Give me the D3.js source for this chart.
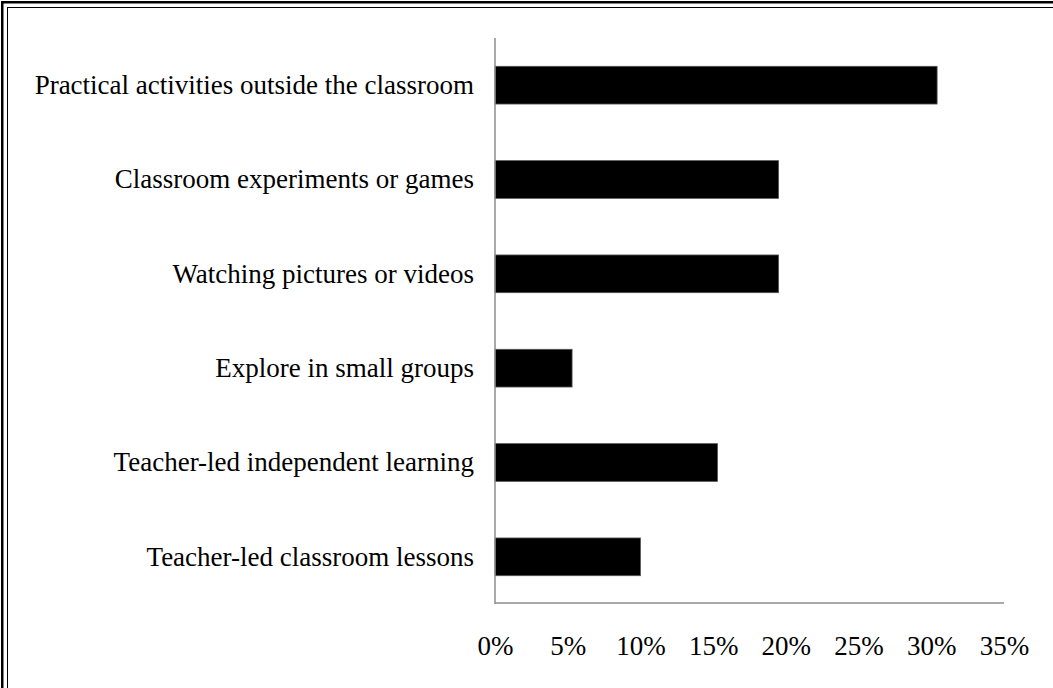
<!DOCTYPE html>
<html>
<head>
<meta charset="utf-8">
<script src="https://cdn.jsdelivr.net/npm/d3@7/dist/d3.min.js"></script>
<style>
  html, body { margin: 0; padding: 0; background: #fff; }
  svg { display: block; }
  text { font-family: "Liberation Serif", "Times New Roman", serif; fill: #000; }
</style>
</head>
<body>
<svg id="chart" width="1053" height="688"></svg>
<script>
// Preferred learning approaches, share of responses
const categories = [
  "Practical activities outside the classroom",
  "Classroom experiments or games",
  "Watching pictures or videos",
  "Explore in small groups",
  "Teacher-led independent learning",
  "Teacher-led classroom lessons"
];
const shares = [0.304, 0.195, 0.195, 0.053, 0.153, 0.100];
const tickValues = [0, 0.05, 0.10, 0.15, 0.20, 0.25, 0.30, 0.35];

const svg = d3.select("#chart");
const W = 1053, H = 688;

// double frame around the figure
svg.append("rect")
  .attr("x", 2.25).attr("y", 2.25)
  .attr("width", W + 40).attr("height", H + 40)
  .attr("fill", "none").attr("stroke", "#000").attr("stroke-width", 2.5);
svg.append("rect")
  .attr("x", 7.5).attr("y", 7.5)
  .attr("width", W + 40).attr("height", H + 40)
  .attr("fill", "none").attr("stroke", "#000").attr("stroke-width", 1);

const x = d3.scaleLinear().domain([0, 0.35]).range([495, 1004]);
const y = d3.scaleBand().domain(categories).range([38, 604])
  .paddingInner(0.6).paddingOuter(0.3);

const fontSize = 27;

// bars
svg.append("g").selectAll("rect")
  .data(categories.map((c, i) => ({ c, v: shares[i] })))
  .join("rect")
  .attr("x", x(0))
  .attr("y", d => y(d.c))
  .attr("width", d => x(d.v) - x(0))
  .attr("height", y.bandwidth())
  .attr("fill", "#000")
  .attr("stroke", "#555")
  .attr("stroke-width", 0.8);

// category axis (vertical line + labels, no ticks)
const yAxis = d3.axisLeft(y).tickSize(0).tickPadding(21);
const gy = svg.append("g").attr("transform", `translate(${x(0)},0)`).call(yAxis);
gy.select(".domain").attr("stroke", "#8c8c8c").attr("stroke-width", 1.5)
  .attr("d", `M0,${y.range()[0]}V${y.range()[1]}`);
gy.selectAll("text")
  .style("font-family", '"Liberation Serif", "Times New Roman", serif')
  .style("font-size", fontSize + "px")
  .attr("fill", "#000")
  .attr("dy", "0.33em");

// value axis (horizontal line + percent labels, no ticks)
const xAxis = d3.axisBottom(x).tickValues(tickValues)
  .tickFormat(d3.format(".0%")).tickSize(0).tickPadding(33);
const gx = svg.append("g").attr("transform", `translate(0,${y.range()[1] - 1})`).call(xAxis);
gx.select(".domain").attr("stroke", "#8c8c8c").attr("stroke-width", 1.5)
  .attr("d", `M${x.range()[0]},0H${x.range()[1]}`);
gx.selectAll("text")
  .style("font-family", '"Liberation Serif", "Times New Roman", serif')
  .style("font-size", fontSize + "px")
  .attr("fill", "#000");
</script>
</body>
</html>
